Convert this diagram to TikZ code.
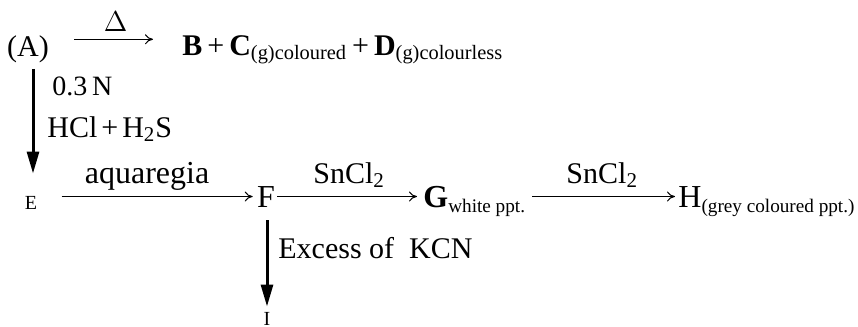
\documentclass[tikz,border=0pt]{standalone}
\usepackage{fontspec}
\setmainfont{Liberation Serif}
\usetikzlibrary{arrows.meta}
\newcommand{\fsz}[1]{\fontsize{#1}{#1}\selectfont}
\newcommand{\pl}{\hspace{2.5pt}+\hspace{2.5pt}}
\begin{document}
\begin{tikzpicture}[x=0.5pt,y=-0.5pt,
  txt/.style={inner sep=0pt, font=\fsz{15}},
  big/.style={inner sep=0pt, font=\fsz{16}},
  small/.style={inner sep=0pt, font=\fsz{10}},
  harr/.style={-{To[length=4pt,width=5pt]}, line width=0.5pt},
  varr/.style={-{Triangle[length=11pt,width=6pt]}, line width=1.5pt},
  lbl/.style={inner sep=0pt, font=\fsz{15}, anchor=base},
]
\useasboundingbox (0,0) rectangle (858,327);
% row 1
\node[txt, anchor=base] (A) at (28,56) {(A)};
\node[txt, anchor=base west] (P) at (182,55) {\textbf{B}\pl\textbf{C}\textsubscript{\fsz{10.2}(g)coloured}\pl\textbf{D}\textsubscript{\fsz{10.2}(g)colourless}};
\draw[harr, shorten <=12.5pt, shorten >=14.5pt] ([yshift=4.75pt]A.east) -- ([yshift=4.75pt]A.east -| P.west)
  node[midway, lbl, yshift=4pt] (delta) {$\Delta$};
% row 2
\node[small, anchor=base] (E) at (31,209) {E};
\node[big, anchor=base] (F) at (266,207) {F};
\node[big, anchor=base west] (G) at (423,207) {\textbf{G}\textsubscript{\fsz{9.6}white ppt.}};
\node[big, anchor=base west] (H) at (678,207) {H\textsubscript{\fsz{9.6}(grey coloured ppt.)}};
\node[small, anchor=base] (I) at (267,325) {I};
% labels of the vertical arrows
\node[txt, anchor=base west, font=\fsz{14}] (c1) at (52,95) {0.3\,N};
\node[txt, anchor=base west] (c2) at (47,137) {HCl\hspace{2pt}+\hspace{2pt}H\textsubscript{2}S};
\node[txt, anchor=base west] (c3) at (278,258) {Excess of \ KCN};
% vertical A -> E
\draw[varr, shorten <=3pt, shorten >=11pt] ([xshift=2.5pt]A.south) -- ([xshift=2.5pt]A.south |- E.north);
% E -> F
\draw[harr, shorten <=12pt, shorten >=2pt] (E.east |- F.west) -- (F.west)
  node[midway, lbl, yshift=6.5pt, font=\fsz{16}] (aq) {aquaregia};
% F -> G
\draw[harr, shorten <=1pt, shorten >=3pt] (F.east) -- (F.east -| G.west)
  node[midway, lbl, yshift=6.5pt] (s1) {SnCl\textsubscript{2}};
% G -> H
\draw[harr, shorten <=3pt, shorten >=1.5pt] (G.east |- F.east) -- (F.east -| H.west)
  node[midway, lbl, yshift=6.5pt] (s2) {SnCl\textsubscript{2}};
% F -> I
\draw[varr, shorten <=6.5pt, shorten >=2.5pt] ([xshift=0.5pt]F.south) -- ([xshift=0.5pt]F.south |- I.north);
\end{tikzpicture}
\end{document}
